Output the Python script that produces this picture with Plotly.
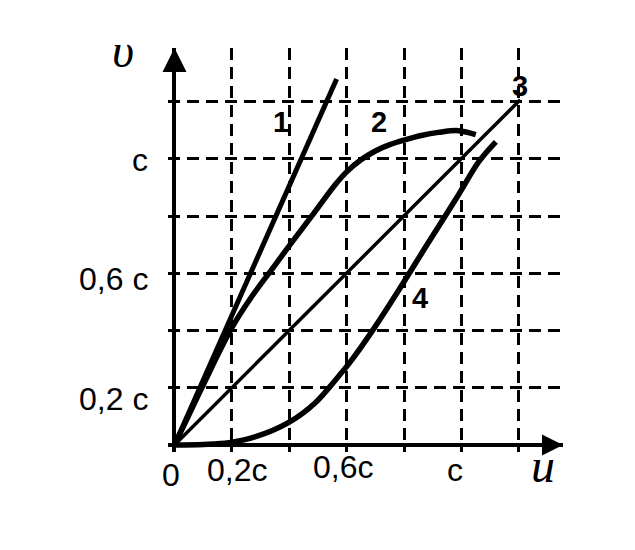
import plotly.graph_objects as go

# ---- data (in units of c) ----
u1 = [0, 0.565]
v1 = [0, 1.28]

u2 = [0, 0.05, 0.10, 0.20, 0.27, 0.34, 0.41, 0.478, 0.56, 0.60, 0.65, 0.70, 0.75, 0.80, 0.86, 0.92, 0.99, 1.05]
v2 = [0, 0.105, 0.21, 0.41, 0.52, 0.615, 0.71, 0.80, 0.91, 0.955, 0.997, 1.028, 1.05, 1.066, 1.082, 1.093, 1.099, 1.085]

u3 = [0, 1.205]
v3 = [0, 1.207]

u4 = [0, 0.10, 0.19, 0.28, 0.40, 0.49, 0.57, 0.61, 0.69, 0.79, 0.88, 0.99, 1.06, 1.12]
v4 = [0, 0.002, 0.008, 0.028, 0.080, 0.147, 0.238, 0.287, 0.40, 0.555, 0.70, 0.875, 0.99, 1.06]

x_tick_vals = [0, 0.2, 0.6, 1.0]
x_tick_text = ["0", "0,2c", "0,6c", "c"]
y_tick_vals = [0.2, 0.6, 1.0]
y_tick_text = ["0,2 c", "0,6 c", "c"]

curve_names = ["1", "2", "3", "4"]
curve_label_pos = [(0.371, 1.129), (0.713, 1.129), (1.204, 1.255), (0.855, 0.514)]

X_RANGE = [-0.0226, 1.354]
Y_RANGE = [-0.0245, 1.388]

fig = go.Figure()

widths = [5, 5.5, 3.5, 5.5]
for (u, v), w in zip([(u1, v1), (u2, v2), (u3, v3), (u4, v4)], widths):
    fig.add_trace(go.Scatter(x=u, y=v, mode="lines",
                             line=dict(color="black", width=w, shape="spline", smoothing=1.0),
                             hoverinfo="skip", showlegend=False))

# axis arrowheads
fig.add_trace(go.Scatter(x=[X_RANGE[1]], y=[0], mode="markers", cliponaxis=False,
                         marker=dict(symbol="arrow-right", size=21, color="black", line=dict(width=0)),
                         hoverinfo="skip", showlegend=False))
fig.add_trace(go.Scatter(x=[0], y=[Y_RANGE[1]], mode="markers", cliponaxis=False,
                         marker=dict(symbol="arrow-up", size=24, color="black", line=dict(width=0)),
                         hoverinfo="skip", showlegend=False))

sans = "Liberation Sans, Arial, sans-serif"
serif = "Liberation Serif, Times New Roman, serif"

ann = []
x_shift = [-3.5, 5, -4, -6]
x_yshift = [-30, -25, -22, -25]
for v, t, dx, dy in zip(x_tick_vals, x_tick_text, x_shift, x_yshift):
    ann.append(dict(x=v, y=0, xref="x", yref="y", text=t, showarrow=False,
                    xshift=dx, yshift=dy, font=dict(family=sans, size=32, color="black"),
                    xanchor="center", yanchor="middle"))
y_yshift = [-11, -6, -1]
for v, t, dy in zip(y_tick_vals, y_tick_text, y_yshift):
    ann.append(dict(x=0, y=v, xref="x", yref="y", text=t, showarrow=False,
                    xshift=-24, yshift=dy, font=dict(family=sans, size=32, color="black"),
                    xanchor="right", yanchor="middle"))
for name, (px, py) in zip(curve_names, curve_label_pos):
    ann.append(dict(x=px, y=py, xref="x", yref="y", text="<b>" + name + "</b>", showarrow=False,
                    font=dict(family=sans, size=29, color="black"),
                    xanchor="center", yanchor="middle"))
ann.append(dict(x=-0.1136, y=0.995, xref="paper", yref="paper", text="<i>υ</i>", showarrow=False,
                font=dict(family=serif, size=48, color="black"), xanchor="center", yanchor="middle"))
ann.append(dict(x=0.949, y=-0.0343, xref="paper", yref="paper", text="<i>u</i>", showarrow=False,
                font=dict(family=serif, size=48, color="black"), xanchor="center", yanchor="middle"))

axis_common = dict(showgrid=True, gridcolor="black", gridwidth=3, griddash="12px,7px",
                   dtick=0.2, tick0=0, zeroline=True, zerolinecolor="black", zerolinewidth=4,
                   showticklabels=False, ticks="", showline=False, fixedrange=True)

fig.update_layout(
    width=635, height=550,
    margin=dict(l=160, r=80, t=40, b=106),
    paper_bgcolor="white", plot_bgcolor="white",
    xaxis=dict(range=X_RANGE, **axis_common),
    yaxis=dict(range=Y_RANGE, **axis_common),
    annotations=ann,
    showlegend=False,
)

fig.write_html("out.html")
